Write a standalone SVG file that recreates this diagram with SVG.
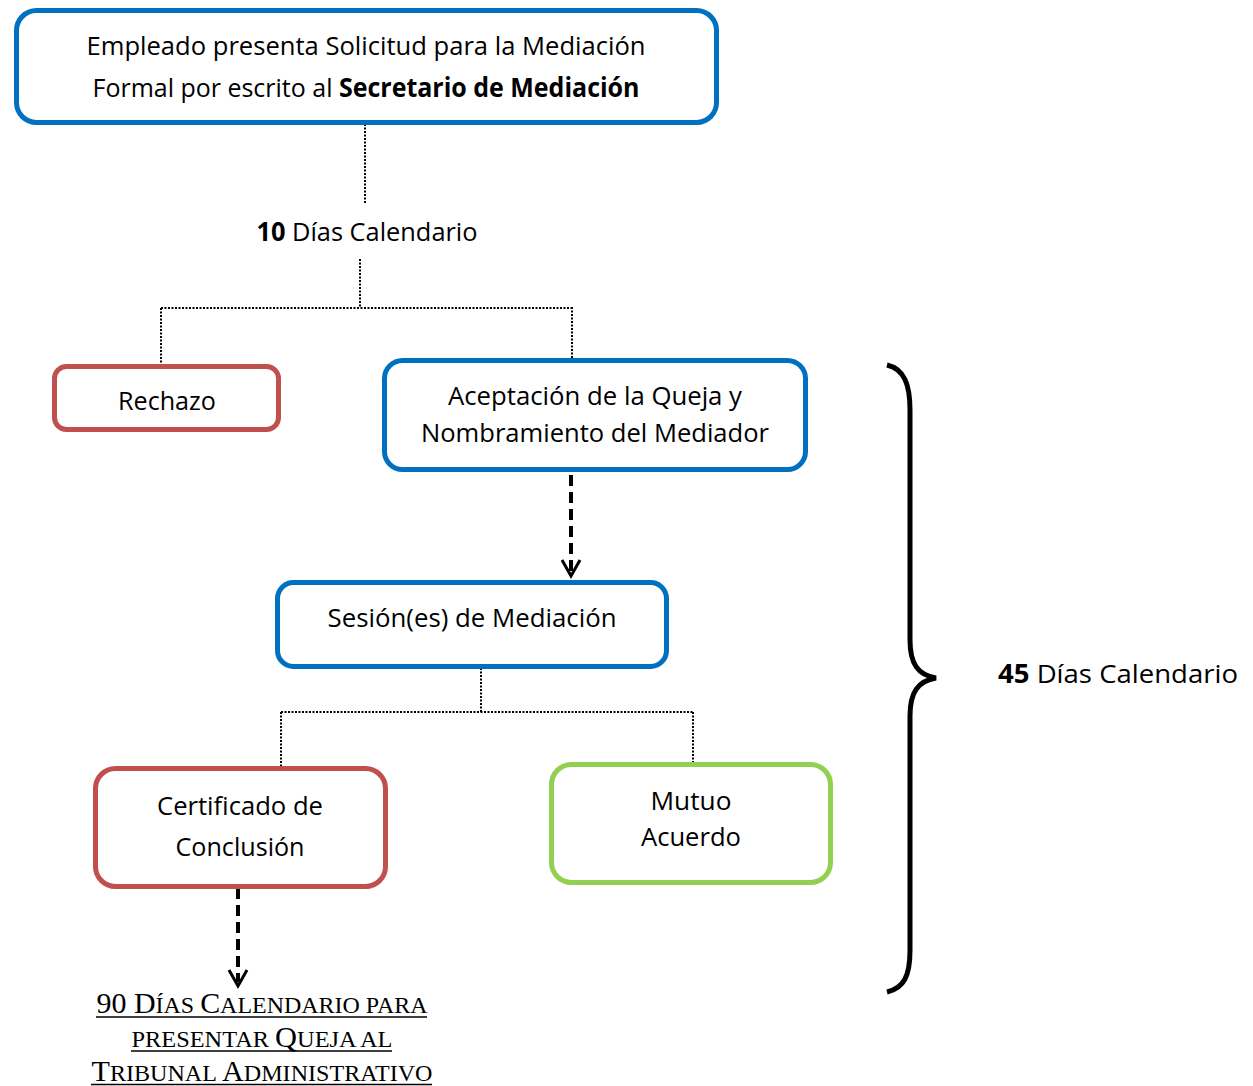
<svg xmlns="http://www.w3.org/2000/svg" width="1253" height="1086" viewBox="0 0 1253 1086">
<defs>
<style>
.box{fill:#fff;stroke-width:5}
.blue{stroke:#0070C0}
.red{stroke:#C0504D}
.green{stroke:#92D050}
.t{font-family:"Open Sans","Noto Sans",sans-serif;font-size:26px;fill:#000;text-anchor:middle}
.b{font-weight:bold}
.dot{fill:none;stroke:#000;stroke-width:2;stroke-dasharray:2 1.5}
.dash{fill:none;stroke:#000;stroke-width:4;stroke-dasharray:11 6}
.head{fill:none;stroke:#000;stroke-width:3}
.sc{font-family:"Liberation Serif","Times New Roman",serif;font-size:24px;text-anchor:middle;fill:#000}
.cap{font-size:30px}
.ul{stroke:#000;stroke-width:1.5}
</style>
</defs>
<rect width="1253" height="1086" fill="#fff"/>
<g id="connectors">
<path class="dot" d="M365,124 V204"/>
<path class="dot" d="M360,259 V307 M161,308 H572 M161,308 V363 M572,307 V358"/>
<path class="dash" d="M571,475 V572"/>
<path class="head" d="M562,560 L571,576 L580,560"/>
<path class="dot" d="M481,668 V712 M281,712 H693 M281,712 V767 M693,712 V763"/>
<path class="dash" d="M238,888 V982"/>
<path class="head" d="M229,970 L238,986 L247,970"/>
</g>
<g id="n-solicitud">
<rect class="box blue" x="16.5" y="10.5" width="700" height="112" rx="20"/>
<text class="t" x="366" y="55" textLength="559" lengthAdjust="spacingAndGlyphs">Empleado presenta Solicitud para la Mediación</text>
<text class="t" x="366" y="97" textLength="547" lengthAdjust="spacingAndGlyphs">Formal por escrito al <tspan class="b">Secretario de Mediación</tspan></text>
</g>
<g id="l-10dias">
<text class="t" x="367" y="241" textLength="221" lengthAdjust="spacingAndGlyphs"><tspan class="b">10</tspan> Días Calendario</text>
</g>
<g id="n-rechazo">
<rect class="box red" x="54.5" y="366.5" width="224" height="63" rx="12"/>
<text class="t" x="167" y="410" textLength="98" lengthAdjust="spacingAndGlyphs">Rechazo</text>
</g>
<g id="n-aceptacion">
<rect class="box blue" x="384.5" y="360.5" width="421" height="109" rx="18"/>
<text class="t" x="595" y="405" textLength="294" lengthAdjust="spacingAndGlyphs">Aceptación de la Queja y</text>
<text class="t" x="595" y="442" textLength="348" lengthAdjust="spacingAndGlyphs">Nombramiento del Mediador</text>
</g>
<g id="n-sesion">
<rect class="box blue" x="277.5" y="582.5" width="389" height="84" rx="16"/>
<text class="t" x="472" y="627" textLength="289" lengthAdjust="spacingAndGlyphs">Sesión(es) de Mediación</text>
</g>
<g id="n-certificado">
<rect class="box red" x="95.5" y="768.5" width="290" height="118" rx="20"/>
<text class="t" x="240" y="815" textLength="166" lengthAdjust="spacingAndGlyphs">Certificado de</text>
<text class="t" x="240" y="856" textLength="129" lengthAdjust="spacingAndGlyphs">Conclusión</text>
</g>
<g id="n-mutuo">
<rect class="box green" x="551.5" y="764.5" width="279" height="118" rx="20"/>
<text class="t" x="691" y="810" textLength="81" lengthAdjust="spacingAndGlyphs">Mutuo</text>
<text class="t" x="691" y="846" textLength="100" lengthAdjust="spacingAndGlyphs">Acuerdo</text>
</g>
<g id="l-90dias">
<text class="sc" x="262" y="1013" textLength="331" lengthAdjust="spacingAndGlyphs"><tspan class="cap">90 D</tspan>ÍAS <tspan class="cap">C</tspan>ALENDARIO PARA</text>
<text class="sc" x="262" y="1047" textLength="261" lengthAdjust="spacingAndGlyphs">PRESENTAR <tspan class="cap">Q</tspan>UEJA AL</text>
<text class="sc" x="262" y="1081" textLength="341" lengthAdjust="spacingAndGlyphs"><tspan class="cap">T</tspan>RIBUNAL <tspan class="cap">A</tspan>DMINISTRATIVO</text>
<path class="ul" d="M96,1017 H427 M131,1051 H392 M91,1084.5 H432"/>
</g>
<g id="brace">
<path d="M887,365 C904,369 910,384 910,410 L910,640 C910,664 918,675 936,678 C918,681 910,692 910,716 L910,950 C910,976 904,988 887,992" fill="none" stroke="#000" stroke-width="5"/>
</g>
<g id="l-45dias">
<text class="t" x="1118" y="683" textLength="240" lengthAdjust="spacingAndGlyphs"><tspan class="b">45</tspan> Días Calendario</text>
</g>
</svg>
